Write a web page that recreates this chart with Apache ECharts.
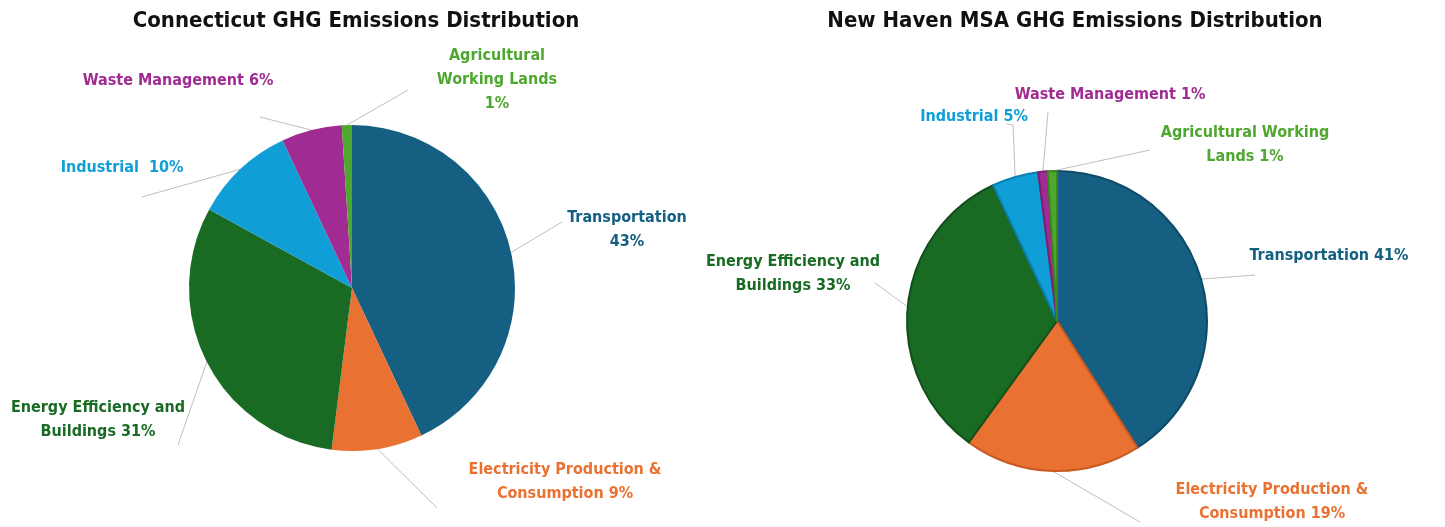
<!DOCTYPE html>
<html>
<head>
<meta charset="utf-8">
<style>
html,body{margin:0;padding:0;background:#fff;}
#c{width:1445px;height:527px;}
</style>
<script src="https://cdn.jsdelivr.net/npm/echarts@6/dist/echarts.min.js"></script>
</head>
<body>
<div id="c"></div>
<script>
var categories = ['Transportation','Electricity Production & Consumption','Energy Efficiency and Buildings','Industrial','Waste Management','Agricultural Working Lands'];
var ctValues = [43, 9, 31, 10, 6, 1];
var nhValues = [41, 19, 33, 5, 1, 1];
var ctLabels = ['Transportation\n43%','Electricity Production &\nConsumption 9%','Energy Efficiency and\nBuildings 31%','Industrial  10%','Waste Management 6%','Agricultural\nWorking Lands\n1%'];
var nhLabels = ['Transportation 41%','Electricity Production &\nConsumption 19%','Energy Efficiency and\nBuildings 33%','Industrial 5%','Waste Management 1%','Agricultural Working\nLands 1%'];

var colors = ['#156082','#E97132','#196B24','#0F9ED5','#A02B93','#4EA72E'];
var borders = ['#0f4a66','#c85a22','#124f1a','#0b7fae','#7e1f73','#3a8520'];
var FONT = '"Liberation Sans Narrow","DejaVu Sans Condensed","Roboto",sans-serif';

// label placement (text block centres) and leader-line end points
var ctLabelPos = [[627,230],[565,482],[98,420],[122,168],[178,81],[497,80]];
var ctLineEnds = [[[562,222]],[[437,508]],[[178,445]],[[142,197]],[[260,117]],[[408,90]]];
var nhLabelPos = [[1329,256],[1272,502],[793,274],[974,117],[1110,95],[1245,145]];
var nhLineEnds = [[[1255,275]],[[1140,522]],[[875,283]],[[1013,125],[1007,124]],[[1048,112]],[[1150,150]]];

function build(values, labels, useBorder){
  return values.map(function(v,i){
    return {
      name: categories[i],
      value: v,
      itemStyle: {color: colors[i], borderColor: useBorder ? borders[i] : colors[i], borderWidth: useBorder ? 2 : 0},
      label: {color: colors[i], formatter: labels[i]}
    };
  });
}

function layoutFn(pos, ends){
  return function(p){
    var q = pos[p.dataIndex];
    var out = {x: q[0], y: q[1], align: 'center', verticalAlign: 'middle'};
    if (p.labelLinePoints && p.labelLinePoints.length) {
      out.labelLinePoints = [p.labelLinePoints[0]].concat(ends[p.dataIndex]);
    }
    return out;
  };
}

var chart = echarts.init(document.getElementById('c'));
var commonLabel = {
  show: true, position: 'outside', fontFamily: FONT, fontWeight: 'bold', fontSize: 16, lineHeight: 24, align: 'center', overflow: 'none', width: 300
};
var commonLine = {show: true, length: 2, length2: 0, lineStyle: {color: '#bfbfbf', width: 1}};
chart.setOption({
  animation: false,
  backgroundColor: '#fff',
  title: [
    {text: 'Connecticut GHG Emissions Distribution', left: 351, top: 5, textAlign: 'center',
     textStyle: {fontFamily: FONT, fontWeight: 'bold', fontSize: 22, color: '#111'}},
    {text: 'New Haven MSA GHG Emissions Distribution', left: 1070, top: 5, textAlign: 'center',
     textStyle: {fontFamily: FONT, fontWeight: 'bold', fontSize: 22, color: '#111'}}
  ],
  series: [
    {
      type: 'pie', center: [352, 288], radius: 163, startAngle: 90, clockwise: true,
      data: build(ctValues, ctLabels, false),
      label: commonLabel,
      labelLine: commonLine,
      labelLayout: layoutFn(ctLabelPos, ctLineEnds)
    },
    {
      type: 'pie', center: [1057, 321], radius: 150, startAngle: 90, clockwise: true,
      data: build(nhValues, nhLabels, true),
      label: commonLabel,
      labelLine: commonLine,
      labelLayout: layoutFn(nhLabelPos, nhLineEnds)
    }
  ]
});
</script>
</body>
</html>
